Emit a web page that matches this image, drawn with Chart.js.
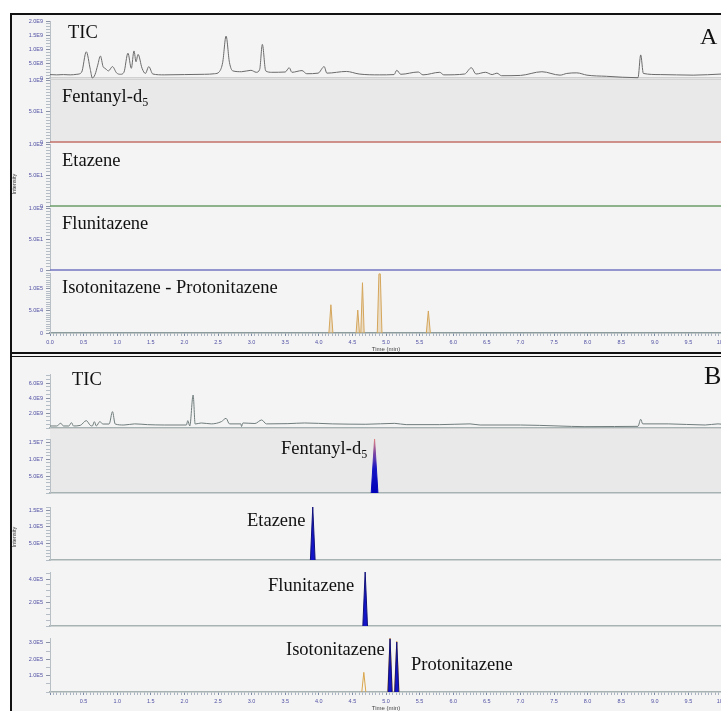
<!DOCTYPE html>
<html>
<head>
<meta charset="utf-8">
<script src="https://cdn.jsdelivr.net/npm/chart.js@4.4.1/dist/chart.umd.min.js"></script>
<style>
  html, body { margin: 0; padding: 0; background: #fff; width: 721px; height: 711px; overflow: hidden; }
  #frame { position: absolute; left: 10px; top: 13px; width: 800px; height: 800px; background: #f4f4f4;
           border-left: 2px solid #111; border-top: 2px solid #111; box-sizing: border-box; }
  .sep { position: absolute; left: 10px; width: 800px; background: #111; }
  .panel { position: absolute; left: 0; }
  .lbl { position: absolute; font-family: 'Liberation Serif', serif; line-height: 1; color: #111; white-space: nowrap; }
  .lbl sub { font-size: 12px; vertical-align: baseline; position: relative; top: 4px; }
  .ytitle { position: absolute; width: 0; height: 0; }
  .ytitle span { position: absolute; font-family: 'Liberation Sans', sans-serif; font-size: 5.5px; color: #333;
                 white-space: nowrap; transform: translate(-50%, -50%) rotate(-90deg); }
</style>
</head>
<body>
<div id="frame"></div>
<div id="charts"></div>
<div id="labels"></div>
<div class="sep" style="top:352px;height:2px"></div>
<div class="sep" style="top:356px;height:1px"></div>
<div class="ytitle" style="left:14px;top:184px"><span>Intensity</span></div>
<div class="ytitle" style="left:14px;top:537px"><span>Intensity</span></div>

<script>
// ---- time axis (min) ----
const xTickValues  = [0, 0.5, 1, 1.5, 2, 2.5, 3, 3.5, 4, 4.5, 5, 5.5, 6, 6.5, 7, 7.5, 8, 8.5, 9, 9.5, 10];
const xTickLabelsA = ['0.0','0.5','1.0','1.5','2.0','2.5','3.0','3.5','4.0','4.5','5.0','5.5','6.0','6.5','7.0','7.5','8.0','8.5','9.0','9.5','10.0'];
const xTickLabelsB = ['','0.5','1.0','1.5','2.0','2.5','3.0','3.5','4.0','4.5','5.0','5.5','6.0','6.5','7.0','7.5','8.0','8.5','9.0','9.5','10.0'];

// ---- panel A : TIC (E9) ----
const ticA_time = [0.00,0.10,0.20,0.30,0.40,0.47,0.54,0.60,0.63,0.67,0.71,0.75,0.79,0.82,0.87,0.93,0.99,1.05,1.10,1.16,
  1.21,1.25,1.28,1.31,1.37,1.42,1.47,1.53,1.70,2.00,2.30,2.45,2.52,2.57,2.62,2.67,2.72,2.85,2.99,3.07,3.12,3.16,3.21,
  3.30,3.50,3.56,3.60,3.75,3.82,3.99,4.08,4.12,4.41,4.60,4.90,5.12,5.16,5.22,5.48,5.55,5.80,5.86,6.17,6.27,6.34,6.48,
  6.58,6.65,6.72,7.00,7.32,7.59,7.69,7.84,7.99,8.28,8.75,8.79,8.83,9.08,9.57,10.0];
const ticA_int = [0.12,0.11,0.12,0.11,0.13,0.20,0.92,0.30,0.00,0.12,0.45,0.77,0.40,0.34,0.25,0.40,0.18,0.13,0.20,0.87,
  0.34,0.95,0.57,0.83,0.34,0.16,0.40,0.14,0.11,0.12,0.13,0.15,0.22,0.55,1.47,0.55,0.25,0.22,0.27,0.20,0.30,1.18,0.25,
  0.20,0.21,0.36,0.20,0.26,0.15,0.17,0.40,0.17,0.23,0.14,0.11,0.12,0.27,0.13,0.21,0.11,0.20,0.11,0.14,0.36,0.14,0.20,
  0.12,0.17,0.08,0.09,0.22,0.10,0.16,0.18,0.10,0.06,0.01,0.81,0.16,0.12,0.10,0.14];

// ---- panel A : MRM traces ----
const fentA_time = [0, 10];  const fentA_int = [0, 0];
const etaA_time  = [0, 10];  const etaA_int  = [0, 0];
const fluA_time  = [0, 10];  const fluA_int  = [0, 0];
const isoA_time = [0, 4.15, 4.18, 4.21, 4.555, 4.58, 4.605, 4.625, 4.65, 4.675, 4.87, 4.895, 4.915, 4.94, 5.60, 5.63, 5.66, 10];
const isoA_int  = [0, 0, 6.4e4, 0, 0, 5.2e4, 0, 0, 1.14e5, 0, 0, 1.34e5, 1.34e5, 0, 0, 5.0e4, 0, 0];

// ---- panel B : TIC (E9) ----
const ticB_time = [0.00,0.10,0.16,0.20,0.28,0.32,0.35,0.45,0.54,0.60,0.63,0.66,0.69,0.74,0.79,0.88,0.93,0.97,1.10,1.26,
  1.45,1.70,1.95,2.03,2.05,2.08,2.13,2.16,2.25,2.40,2.55,2.62,2.67,2.84,2.85,2.87,3.05,3.15,3.22,3.54,3.79,4.20,4.70,
  5.13,5.30,5.80,6.25,6.40,7.00,7.56,7.96,8.40,8.75,8.79,8.82,9.20,9.75,9.94,10.0];
const ticB_int = [0.27,0.27,0.63,0.27,0.27,0.71,0.27,0.35,0.98,0.35,0.27,0.84,0.27,0.84,0.53,0.53,2.18,0.53,0.40,0.55,
  0.45,0.40,0.40,0.40,0.98,0.27,4.40,0.53,0.67,0.55,0.85,1.29,0.55,0.55,0.20,0.67,0.60,1.07,0.55,0.58,0.67,0.55,0.50,
  0.62,0.45,0.45,0.55,0.40,0.40,0.27,0.18,0.20,0.22,1.16,0.55,0.55,0.40,0.55,0.50];

// ---- panel B : MRM traces ----
const fentB_time = [0, 4.78, 4.83, 4.88, 10];    const fentB_int = [0, 0, 1.6e7, 0, 0];
const etaB_time  = [0, 3.875, 3.91, 3.945, 10];  const etaB_int  = [0, 0, 1.6e5, 0, 0];
const fluB_time  = [0, 4.655, 4.69, 4.725, 10];  const fluB_int  = [0, 0, 4.6e5, 0, 0];
const isoB_time  = [0, 4.64, 4.67, 4.70, 5.025, 5.06, 5.095, 5.125, 5.16, 5.195, 10];
const isoB_int   = [0, 0, 1.2e5, 0, 0, 3.3e5, 0, 0, 3.1e5, 0, 0];
const protB_time = [0, 5.03, 5.06, 5.09, 5.13, 5.16, 5.19, 10];
const protB_int  = [0, 0, 3.25e5, 0, 0, 3.05e5, 0, 0];

// ---- y tick labels ----
const ticA_ticks = [0, 0.5, 1.0, 1.5, 2.0];        const ticA_labels = ['0','5.0E8','1.0E9','1.5E9','2.0E9'];
const pctA_ticks = [0, 50, 100];                   const pctA_labels = ['0','5.0E1','1.0E2'];
const isoA_ticks = [0, 5e4, 1e5];                  const isoA_labels = ['0','5.0E4','1.0E5'];
const ticB_ticks = [2, 4, 6];                      const ticB_labels = ['2.0E9','4.0E9','6.0E9'];
const fentB_ticks = [5e6, 1e7, 1.5e7];             const fentB_labels = ['5.0E6','1.0E7','1.5E7'];
const etaB_ticks = [5e4, 1e5, 1.5e5];              const etaB_labels = ['5.0E4','1.0E5','1.5E5'];
const fluB_ticks = [2e5, 4e5];                     const fluB_labels = ['2.0E5','4.0E5'];
const isoB_ticks = [1e5, 2e5, 3e5];                const isoB_labels = ['1.0E5','2.0E5','3.0E5'];

const PAD = 14;
const CANVAS_W = 760;
const X_AXIS_H = 20;
const TICK_COLOR = '#5050a4';
const SANS = 'Liberation Sans';

const panelBg = {
  id: 'panelBg',
  beforeDraw(chart, args, opts) {
    if (!opts || !opts.color) return;
    const { ctx, chartArea: a } = chart;
    ctx.save();
    ctx.fillStyle = opts.color;
    ctx.fillRect(a.left, a.top - opts.extra, a.right - a.left, a.bottom - a.top + opts.extra);
    ctx.fillStyle = '#d2d2d2';
    ctx.fillRect(a.left, a.top - opts.extra, a.right - a.left, 1);
    ctx.restore();
  }
};

function fentGradient(ctx) {
  const chart = ctx.chart;
  const a = chart.chartArea;
  if (!a) return '#1010c0';
  const g = chart.ctx.createLinearGradient(0, a.top, 0, a.bottom);
  g.addColorStop(0, '#e08080');
  g.addColorStop(0.3, '#7040a8');
  g.addColorStop(0.55, '#1414c4');
  g.addColorStop(1, '#0000b8');
  return g;
}

// hide the flat zero stretches of a peak trace so only the axis shows there
const peakSegment = {
  borderColor: c => (c.p0.parsed.y === 0 && c.p1.parsed.y === 0) ? 'rgba(0,0,0,0)' : undefined
};

function trace(time, vals, color, opts = {}) {
  return Object.assign({
    data: time.map((t, i) => ({ x: t, y: vals[i] })),
    borderColor: color,
    borderWidth: 1,
    pointRadius: 0,
    fill: false,
    tension: 0,
    clip: 4
  }, opts);
}

function buildChart(p) {
  const below = p.xLabels ? X_AXIS_H : PAD;
  const host = document.createElement('div');
  host.className = 'panel';
  host.style.top = (p.top - PAD) + 'px';
  const cv = document.createElement('canvas');
  cv.width = CANVAS_W;
  cv.height = p.bottom - p.top + PAD + below;
  host.appendChild(cv);
  document.getElementById('charts').appendChild(host);

  const yMarks = [];
  for (let k = 0; k * p.minor <= p.max * 1.000001; k++) yMarks.push(k * p.minor);
  const yLabel = v => {
    const i = p.yTicks.findIndex(t => Math.abs(t - v) < p.minor * 1e-3);
    return i < 0 ? '' : p.yLabels[i];
  };
  const xMarks = [];
  for (let k = 0; k <= 200; k++) xMarks.push(k / 20);
  const isXMajor = v => xTickValues.some(t => Math.abs(t - v) < 1e-6);
  const xLabel = v => {
    if (!p.xLabels) return '';
    const i = xTickValues.findIndex(t => Math.abs(t - v) < 1e-6);
    return i < 0 ? '' : p.xLabels[i];
  };

  new Chart(cv, {
    type: 'line',
    data: { datasets: p.datasets },
    plugins: [panelBg],
    options: {
      responsive: false,
      animation: false,
      layout: { padding: { top: PAD, bottom: p.xLabels ? 0 : PAD, left: 0, right: 38 } },
      plugins: { legend: { display: false }, tooltip: { enabled: false }, panelBg: p.bg || {} },
      scales: {
        x: {
          type: 'linear', min: 0, max: 10,
          display: !!(p.xLabels || p.baseLine),
          afterFit: s => { s.height = p.xLabels ? X_AXIS_H : 0; },
          afterBuildTicks: s => { if (p.xLabels) s.ticks = xMarks.map(v => ({ value: v })); },
          border: { display: !!p.baseLine, color: p.baseLine || '#000', width: 1.5 },
          grid: {
            drawOnChartArea: false, drawTicks: !!p.xLabels, tickLength: 3,
            tickColor: c => (c.tick && isXMajor(c.tick.value)) ? '#7c8aa6' : '#a9b3c2'
          },
          ticks: {
            display: !!p.xLabels, autoSkip: false, maxRotation: 0, padding: 3,
            font: { family: SANS, size: 5.5 }, color: TICK_COLOR,
            callback: v => xLabel(v)
          },
          title: { display: !!p.xLabels, text: 'Time (min)', color: '#444', font: { family: SANS, size: 6 }, padding: 0 }
        },
        y: {
          type: 'linear', min: 0, max: p.max,
          afterFit: s => { s.width = 50; },
          afterBuildTicks: s => { s.ticks = yMarks.map(v => ({ value: v })); },
          border: { color: '#b8c0c6', width: 1 },
          grid: {
            drawOnChartArea: false, tickLength: 4,
            tickColor: c => (c.tick && yLabel(c.tick.value) !== '') ? '#8a94a6' : '#b4bcc6'
          },
          ticks: {
            autoSkip: false, padding: 3,
            font: { family: SANS, size: 5.5 }, color: TICK_COLOR,
            callback: v => yLabel(v)
          }
        }
      }
    }
  });
}

const panels = [
  // ---------- A ----------
  { top: 21, bottom: 78, max: 2.0, minor: 0.1, yTicks: ticA_ticks, yLabels: ticA_labels, baseLine: '#d0d0d0',
    datasets: [trace(ticA_time, ticA_int, '#6a6a6a', { cubicInterpolationMode: 'monotone' })] },
  { top: 80, bottom: 142, max: 100, minor: 5, yTicks: pctA_ticks, yLabels: pctA_labels,
    bg: { color: '#e9e9e9', extra: 1 },
    datasets: [trace(fentA_time, fentA_int, '#c27068', { borderWidth: 1.5 })] },
  { top: 144, bottom: 206, max: 100, minor: 5, yTicks: pctA_ticks, yLabels: pctA_labels,
    datasets: [trace(etaA_time, etaA_int, '#6a9e6a', { borderWidth: 1.5 })] },
  { top: 208, bottom: 270, max: 100, minor: 5, yTicks: pctA_ticks, yLabels: pctA_labels,
    datasets: [trace(fluA_time, fluA_int, '#7474c2', { borderWidth: 1.5 })] },
  { top: 273, bottom: 333, max: 1.36e5, minor: 5e3, yTicks: isoA_ticks, yLabels: isoA_labels,
    baseLine: '#8c9c9c', xLabels: xTickLabelsA,
    datasets: [trace(isoA_time, isoA_int, '#d4a55a',
      { fill: 'origin', backgroundColor: 'rgba(222,190,140,0.45)', segment: peakSegment })] },
  // ---------- B ----------
  { top: 374, bottom: 428, max: 7.2, minor: 0.5, yTicks: ticB_ticks, yLabels: ticB_labels, baseLine: '#a7b3b3',
    datasets: [trace(ticB_time, ticB_int, '#6f7b7b', { cubicInterpolationMode: 'monotone' })] },
  { top: 439, bottom: 493, max: 1.6e7, minor: 1e6, yTicks: fentB_ticks, yLabels: fentB_labels, baseLine: '#a7b3b3',
    bg: { color: '#e9e9e9', extra: 11 },
    datasets: [trace(fentB_time, fentB_int, fentGradient,
      { fill: 'origin', backgroundColor: fentGradient, segment: peakSegment })] },
  { top: 507, bottom: 560, max: 1.6e5, minor: 1e4, yTicks: etaB_ticks, yLabels: etaB_labels, baseLine: '#a7b3b3',
    datasets: [trace(etaB_time, etaB_int, '#10107a',
      { fill: 'origin', backgroundColor: '#1414c8', segment: peakSegment })] },
  { top: 572, bottom: 626, max: 4.6e5, minor: 5e4, yTicks: fluB_ticks, yLabels: fluB_labels, baseLine: '#a7b3b3',
    datasets: [trace(fluB_time, fluB_int, '#10107a',
      { fill: 'origin', backgroundColor: '#1414c8', segment: peakSegment })] },
  { top: 638, bottom: 692, max: 3.3e5, minor: 5e4, yTicks: isoB_ticks, yLabels: isoB_labels, baseLine: '#a7b3b3',
    xLabels: xTickLabelsB,
    datasets: [
      trace(protB_time, protB_int, '#10107a', { fill: 'origin', backgroundColor: '#1414c8', segment: peakSegment }),
      trace(isoB_time, isoB_int, '#d9a54a', { segment: peakSegment })
    ] }
];

panels.forEach(buildChart);

// compound names and panel letters
function addLabel(html, left, baseline, size = 18.5) {
  const d = document.createElement('div');
  d.className = 'lbl';
  d.style.fontSize = size + 'px';
  d.style.left = left + 'px';
  d.style.top = (baseline - 0.8375 * size) + 'px';
  d.innerHTML = html;
  document.getElementById('labels').appendChild(d);
}

addLabel('TIC', 68, 38);
addLabel('Fentanyl-d<sub>5</sub>', 62, 102);
addLabel('Etazene', 62, 166);
addLabel('Flunitazene', 62, 229);
addLabel('Isotonitazene - Protonitazene', 62, 293);
addLabel('A', 700, 44, 24);

addLabel('TIC', 72, 385);
addLabel('Fentanyl-d<sub>5</sub>', 281, 454);
addLabel('Etazene', 247, 526);
addLabel('Flunitazene', 268, 591);
addLabel('Isotonitazene', 286, 655);
addLabel('Protonitazene', 411, 670);
addLabel('B', 704, 385, 26);
</script>
</body>
</html>
